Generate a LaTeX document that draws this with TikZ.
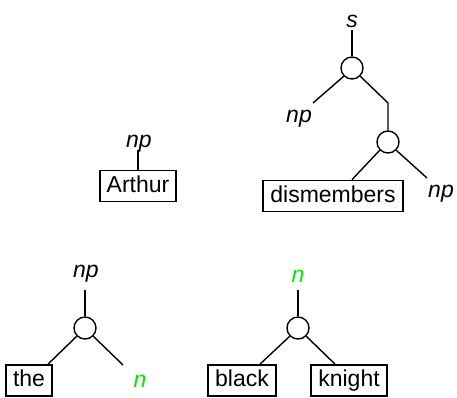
\documentclass[tikz,border=0pt]{standalone}
\usepackage{fontspec}
\setmainfont{Liberation Sans}
\usepackage{xcolor}
\usepackage{tikz}
\definecolor{catgreen}{RGB}{0,235,0}

\begin{document}
\begin{tikzpicture}[x=1pt, y=-1pt, line width=1.4pt, font=\fontsize{23}{27}\selectfont]
  \tikzstyle{word}=[draw, line width=1.8pt, inner xsep=7pt, inner ysep=4.5pt, text height=17pt, text depth=5pt]
  \tikzstyle{junc}=[draw, circle, inner sep=0pt, minimum size=22pt]
  \tikzstyle{cat}=[anchor=base, inner sep=0pt, font=\fontsize{23}{27}\selectfont\itshape]
  \tikzstyle{gcat}=[cat, text=catgreen]
\useasboundingbox (0,0) rectangle (457,397);

% Arthur
\node[cat] (np0) at (139,147) {np};
\coordinate (np0e) at (138,150);
\node[word] (arthur) at (138,186) {Arthur};
\draw (np0e) -- (arthur.north);

% dismembers
\node[cat] (s) at (352,27) {s};
\coordinate (se) at (352,30);
\node[junc] (c1) at (352,68) {};
\coordinate (c1l) at (313,103);
\node[cat] (np1) at (299,122) {np};
\coordinate (c1r) at (388,103);
\node[junc] (c2) at (388,142) {};
\node[word] (dism) at (333,196) {dismembers};
\coordinate (c2r) at (427,178);
\node[cat] (np2) at (441,197) {np};
\draw (se) -- (c1.north);
\draw (c1.south west) -- (c1l);
\draw (c1.south east) -- (c1r) -- (c2.north);
\draw (c2.south west) -- ([xshift=19pt]dism.north);
\draw (c2.south east) -- (c2r);

% the n
\node[cat] (np3) at (86,277) {np};
\coordinate (np3e) at (85,290);
\node[junc] (c3) at (85,328) {};
\node[word] (the) at (29,380.5) {the};
\coordinate (c3r) at (123,365);
\node[gcat] (n1) at (140,387) {n};
\draw (np3e) -- (c3.north);
\draw (c3.south west) -- ([xshift=19pt]the.north);
\draw (c3.south east) -- (c3r);

% black knight
\node[gcat] (n2) at (298,282) {n};
\coordinate (n2e) at (298,290);
\node[junc] (c4) at (298,328) {};
\node[word] (black) at (242,380.5) {black};
\node[word] (knight) at (349,380.5) {knight};
\draw (n2e) -- (c4.north);
\draw (c4.south west) -- ([xshift=18pt]black.north);
\draw (c4.south east) -- ([xshift=-14pt]knight.north);
\end{tikzpicture}
\end{document}
